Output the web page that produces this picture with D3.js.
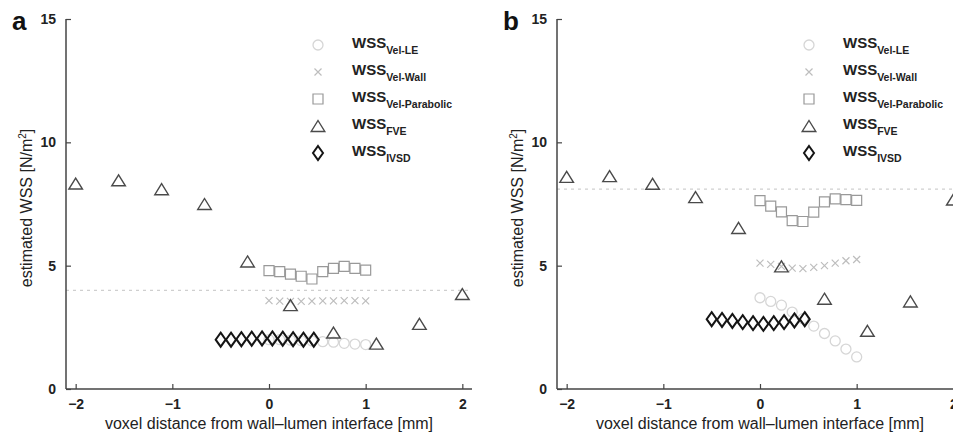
<!DOCTYPE html>
<html>
<head>
<meta charset="utf-8">
<script src="https://cdn.jsdelivr.net/npm/d3@7"></script>
<style>
  html, body { margin: 0; padding: 0; background: #fff; }
  svg { display: block; font-family: "Liberation Sans", Arial, Helvetica, sans-serif; }
</style>
</head>
<body>
<svg id="fig" width="953" height="437"></svg>
<script>
// Voxel positions (mm from wall-lumen interface)
const fveX  = [-2, -1.556, -1.111, -0.667, -0.222, 0.222, 0.667, 1.111, 1.556, 2];
const velX  = [0, 0.111, 0.222, 0.333, 0.444, 0.556, 0.667, 0.778, 0.889, 1];
const ivsdX = [-0.5, -0.393, -0.286, -0.179, -0.072, 0.035, 0.142, 0.249, 0.356, 0.463];

// Panel a: estimated WSS [N/m^2]
const aVelLE   = [2.0, 2.0, 1.98, 1.96, 1.95, 1.92, 1.9, 1.85, 1.82, 1.8];
const aVelWall = [3.58, 3.56, 3.55, 3.55, 3.56, 3.57, 3.57, 3.58, 3.58, 3.57];
const aVelPara = [4.80, 4.76, 4.66, 4.57, 4.46, 4.76, 4.89, 4.97, 4.89, 4.82];
const aFVE     = [8.33, 8.46, 8.1, 7.5, 5.17, 3.4, 2.29, 1.84, 2.64, 3.85];
const aIVSD    = [2.0, 2.0, 2.02, 2.04, 2.05, 2.05, 2.04, 2.02, 2.0, 2.0];
const aTrue    = 4.0;

// Panel b
const bVelLE   = [3.7, 3.55, 3.4, 3.12, 2.85, 2.55, 2.25, 1.95, 1.62, 1.3];
const bVelWall = [5.1, 5.05, 4.97, 4.9, 4.88, 4.93, 5.0, 5.1, 5.2, 5.25];
const bVelPara = [7.64, 7.41, 7.18, 6.83, 6.79, 7.17, 7.59, 7.71, 7.68, 7.65];
const bFVE     = [8.6, 8.63, 8.32, 7.78, 6.53, 4.97, 3.66, 2.36, 3.55, 7.68];
const bIVSD    = [2.83, 2.80, 2.76, 2.71, 2.67, 2.64, 2.67, 2.71, 2.78, 2.83];
const bTrue    = 8.1;

const xTicks = [-2, -1, 0, 1, 2];
const yTicks = [0, 5, 10, 15];
const legendSubs = ["Vel-LE", "Vel-Wall", "Vel-Parabolic", "FVE", "IVSD"];

const svg = d3.select("#fig");

// Marker path generators, centred on (0,0)
const shapes = {
  circle:   () => d3.symbol().type(d3.symbolCircle).size(Math.PI * 25)(),
  cross:    () => "M-3.5,-3.5L3.5,3.5M-3.5,3.5L3.5,-3.5",
  square:   () => "M-5,-5H5V5H-5Z",
  triangle: () => "M0,-5.5L6.8,5.5H-6.8Z",
  diamond:  () => "M0,-7L5,0L0,7L-5,0Z"
};
const styles = {
  circle:   { stroke: "#d6d6d6", width: 1.3 },
  cross:    { stroke: "#bdbdbd", width: 1.2 },
  square:   { stroke: "#999999", width: 1.2 },
  triangle: { stroke: "#4a4a4a", width: 1.4 },
  diamond:  { stroke: "#151515", width: 2.0 }
};
const legendShapes = ["circle", "cross", "square", "triangle", "diamond"];

function drawPanel(left, label, series, trueVal) {
  const width = 406, top = 19, bottom = 389;
  const x = d3.scaleLinear().domain([-2.1, 2.1]).range([left, left + width]);
  const y = d3.scaleLinear().domain([0, 15]).range([bottom, top]);
  const g = svg.append("g");

  // reference level
  g.append("line")
    .attr("x1", x(-2.1)).attr("x2", x(2.1))
    .attr("y1", y(trueVal)).attr("y2", y(trueVal))
    .attr("stroke", "#cfcfcf").attr("stroke-width", 1.2)
    .attr("stroke-dasharray", "3,4");

  // axes (ticks point inward)
  const xa = g.append("g").attr("transform", `translate(0,${bottom})`)
    .call(d3.axisBottom(x).tickValues(xTicks).tickSize(-5).tickSizeOuter(0)
      .tickFormat(d => d < 0 ? "\u2212" + Math.abs(d) : d).tickPadding(10));
  const ya = g.append("g").attr("transform", `translate(${left},0)`)
    .call(d3.axisLeft(y).tickValues(yTicks).tickSize(-5).tickSizeOuter(0).tickPadding(10));
  [xa, ya].forEach(a => {
    a.select(".domain").attr("stroke", "#444").attr("stroke-width", 1.5);
    a.selectAll(".tick line").attr("stroke", "#444").attr("stroke-width", 1.2);
    a.selectAll(".tick text").attr("fill", "#222").style("font-size", "14px")
      .style("font-weight", "bold")
      .style("font-family", "'Liberation Sans', Arial, sans-serif");
  });
  xa.select(".domain").attr("d", `M${left},0H${left + width}`);
  ya.select(".domain").attr("d", `M0,${bottom}V${top}`);

  // data
  series.forEach(s => {
    const st = styles[s.shape];
    g.append("g").selectAll("path").data(s.y.map((v, i) => [s.x[i], v]))
      .join("path")
      .attr("d", shapes[s.shape]())
      .attr("transform", d => `translate(${x(d[0])},${y(d[1])})`)
      .attr("fill", "none").attr("stroke", st.stroke).attr("stroke-width", st.width);
  });

  // axis titles
  g.append("text")
    .attr("x", x(0)).attr("y", 429)
    .attr("text-anchor", "middle").attr("fill", "#222").style("font-size", "16px")
    .text("voxel distance from wall\u2013lumen interface [mm]");
  const yt = g.append("text")
    .attr("transform", `translate(${left - 34},${(top + bottom) / 2 + 4}) rotate(-90)`)
    .attr("text-anchor", "middle").attr("fill", "#222").style("font-size", "16px");
  yt.append("tspan").text("estimated WSS [N/m");
  yt.append("tspan").attr("dy", -6).style("font-size", "10px").text("2");
  yt.append("tspan").attr("dy", 6).text("]");

  // panel letter
  g.append("text").attr("x", left - 54).attr("y", 30)
    .attr("fill", "#111").style("font-size", "26px").style("font-weight", "bold")
    .text(label);

  // legend
  const lx = left + 252, ly0 = 45, dyRow = 27;
  legendShapes.forEach((sh, i) => {
    const st = styles[sh];
    const cy = ly0 + i * dyRow;
    g.append("path").attr("d", shapes[sh]())
      .attr("transform", `translate(${lx},${cy})`)
      .attr("fill", "none").attr("stroke", st.stroke).attr("stroke-width", st.width);
    const t = g.append("text").attr("x", lx + 34).attr("y", cy + 3)
      .attr("fill", "#222").style("font-size", "15px").style("font-weight", "bold");
    t.append("tspan").text("WSS");
    t.append("tspan").attr("dy", 6).style("font-size", "10.5px").text(legendSubs[i]);
  });
}

drawPanel(66, "a", [
  { shape: "circle",   x: velX,  y: aVelLE },
  { shape: "cross",    x: velX,  y: aVelWall },
  { shape: "square",   x: velX,  y: aVelPara },
  { shape: "triangle", x: fveX,  y: aFVE },
  { shape: "diamond",  x: ivsdX, y: aIVSD }
], aTrue);

drawPanel(557, "b", [
  { shape: "circle",   x: velX,  y: bVelLE },
  { shape: "cross",    x: velX,  y: bVelWall },
  { shape: "square",   x: velX,  y: bVelPara },
  { shape: "triangle", x: fveX,  y: bFVE },
  { shape: "diamond",  x: ivsdX, y: bIVSD }
], bTrue);
</script>
</body>
</html>
